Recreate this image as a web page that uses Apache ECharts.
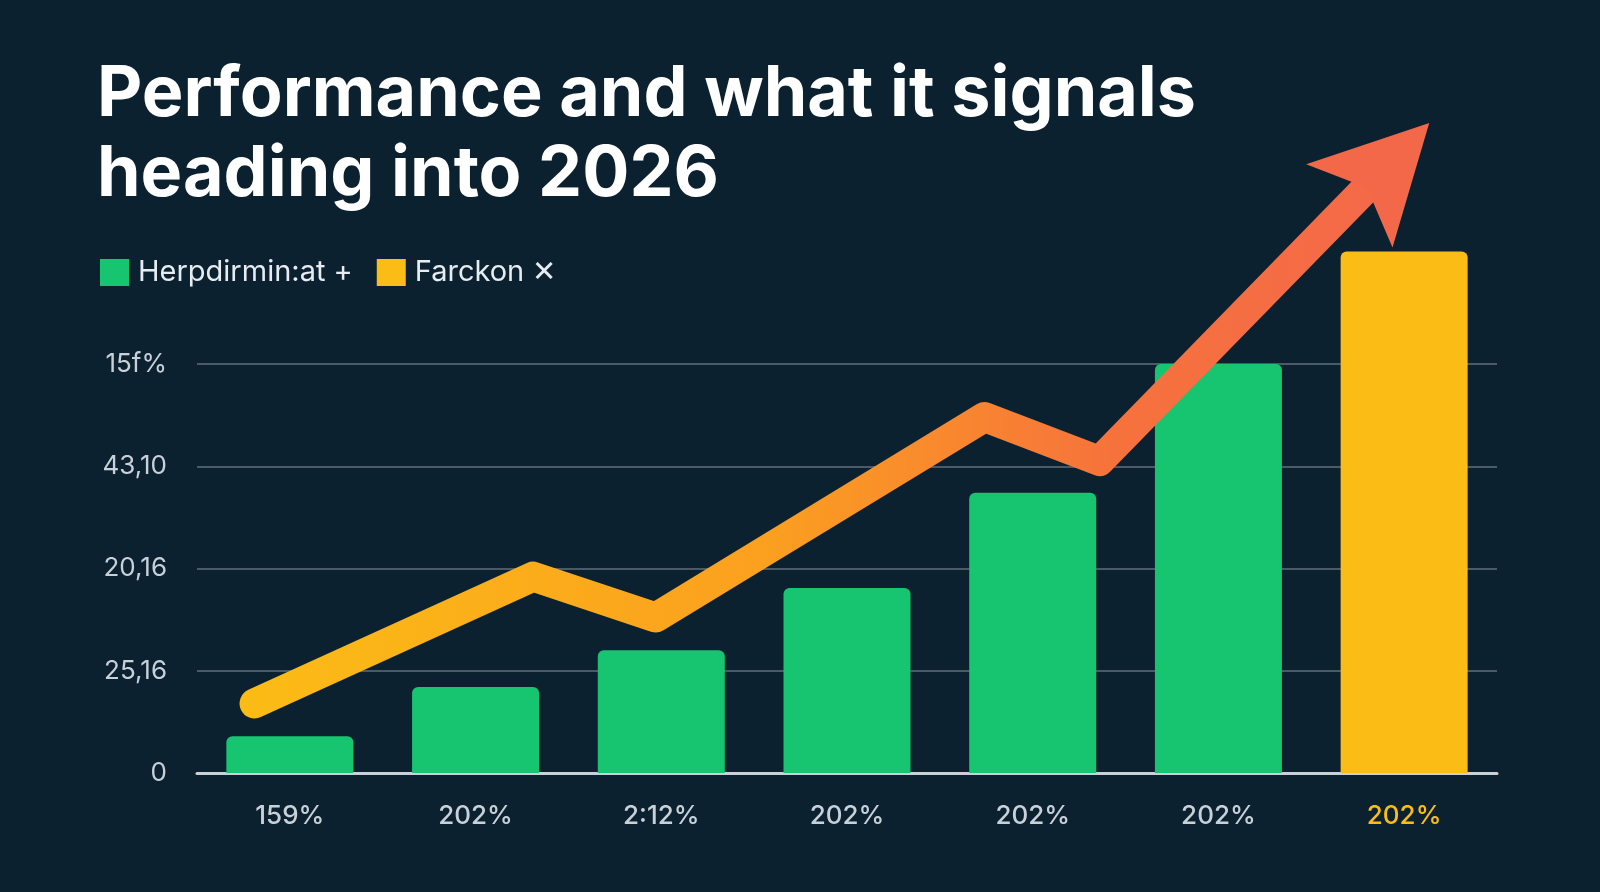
<!DOCTYPE html>
<html><head><meta charset="utf-8">
<script src="https://cdn.jsdelivr.net/npm/echarts@6/dist/echarts.min.js"></script>
<style>html,body{margin:0;background:#0c2130;}#c{width:1600px;height:892px;}</style>
</head><body><div id="c"></div>
<script>
const categories = ['159%','202%','2:12%','202%','202%','202%','202%'];
const barValues = [0.36, 0.84, 1.2, 1.81, 2.74, 4.0, 5.1];
const yTickLabels = ['0','25,16','20,16','43,10','15f%'];
const trendX = [0.31, 1.81, 2.47, 4.24, 4.86, 6.42];
const trendY = [0.68, 1.92, 1.52, 3.48, 3.05, 5.95];
const legendNames = ['Herpdirmin:at +', 'Farckon ✕'];

const GREEN = '#17c46f', YELLOW = '#fbbc15';
const chart = echarts.init(document.getElementById('c'));
chart.setOption({
  backgroundColor: '#0c2130',
  title: {
    text: 'Performance and what it signals\nheading into 2026',
    left: 92, top: 50,
    textStyle: {color: '#ffffff', fontFamily: 'Inter', fontWeight: 'bold', fontSize: 70, lineHeight: 80}
  },
  legend: {
    left: 95, top: 253, itemWidth: 29, itemHeight: 27, itemGap: 24,
    icon: 'rect', data: legendNames,
    textStyle: {color: '#e6ecf0', fontSize: 29, fontFamily: 'Inter', padding: [0,0,0,4]}
  },
  grid: [{left: 197, right: 103, top: 364, height: 409},
         {left: 197, right: 103, top: 98, height: 675}],
  xAxis: [{
    type: 'category', data: categories, gridIndex: 0,
    axisLine: {lineStyle: {color: '#c8d0d8', width: 3}},
    axisTick: {show: false},
    axisLabel: {margin: 30, fontSize: 26, fontFamily: 'Inter',
      color: (v, i) => i === categories.length - 1 ? YELLOW : '#c8d0d8',
      fontWeight: 500}
  }, {
    type: 'value', min: 0, max: 7, show: false, gridIndex: 1
  }],
  yAxis: [{
    type: 'value', min: 0, max: 4, interval: 1, gridIndex: 0,
    axisLine: {show: false}, axisTick: {show: false},
    axisLabel: {margin: 30, fontSize: 26, fontFamily: 'Inter', color: '#c8d0d8',
      formatter: (v) => yTickLabels[Math.round(v)] || ''},
    splitLine: {lineStyle: {color: '#4a5a66', width: 2}}
  }, {
    type: 'value', min: 0, max: 6.6, show: false, gridIndex: 1
  }],
  series: [{
    name: legendNames[0], type: 'bar', stack: 's', clip: false, barWidth: 127,
    itemStyle: {color: GREEN, borderRadius: [6,6,0,0]},
    data: barValues.map((v, i) => i === barValues.length - 1 ? {value: v, itemStyle: {color: YELLOW}} : v),
    z: 2
  }, {
    name: legendNames[1], type: 'bar', stack: 's', itemStyle: {color: YELLOW}, data: []
  }, {
    type: 'line', xAxisIndex: 1, yAxisIndex: 1, z: 5,
    data: trendX.map((x, i) => i === trendX.length - 1
      ? {value: [x, trendY[i]], symbol: 'path://M50,0 L100,100 L50,78 L0,100 Z', symbolSize: [120, 115], symbolRotate: -44, itemStyle: {color: '#f4684a'}}
      : {value: [x, trendY[i]], symbol: 'none'}),
    lineStyle: {width: 30, cap: 'round', join: 'round',
      color: new echarts.graphic.LinearGradient(0, 0, 1, 0, [
        {offset: 0, color: '#fbbc15'}, {offset: 0.45, color: '#fba01f'},
        {offset: 0.75, color: '#f6723c'}, {offset: 1, color: '#f4684a'}])},
    itemStyle: {color: '#f4684a'},
    showSymbol: true
  }]
});
</script></body></html>
